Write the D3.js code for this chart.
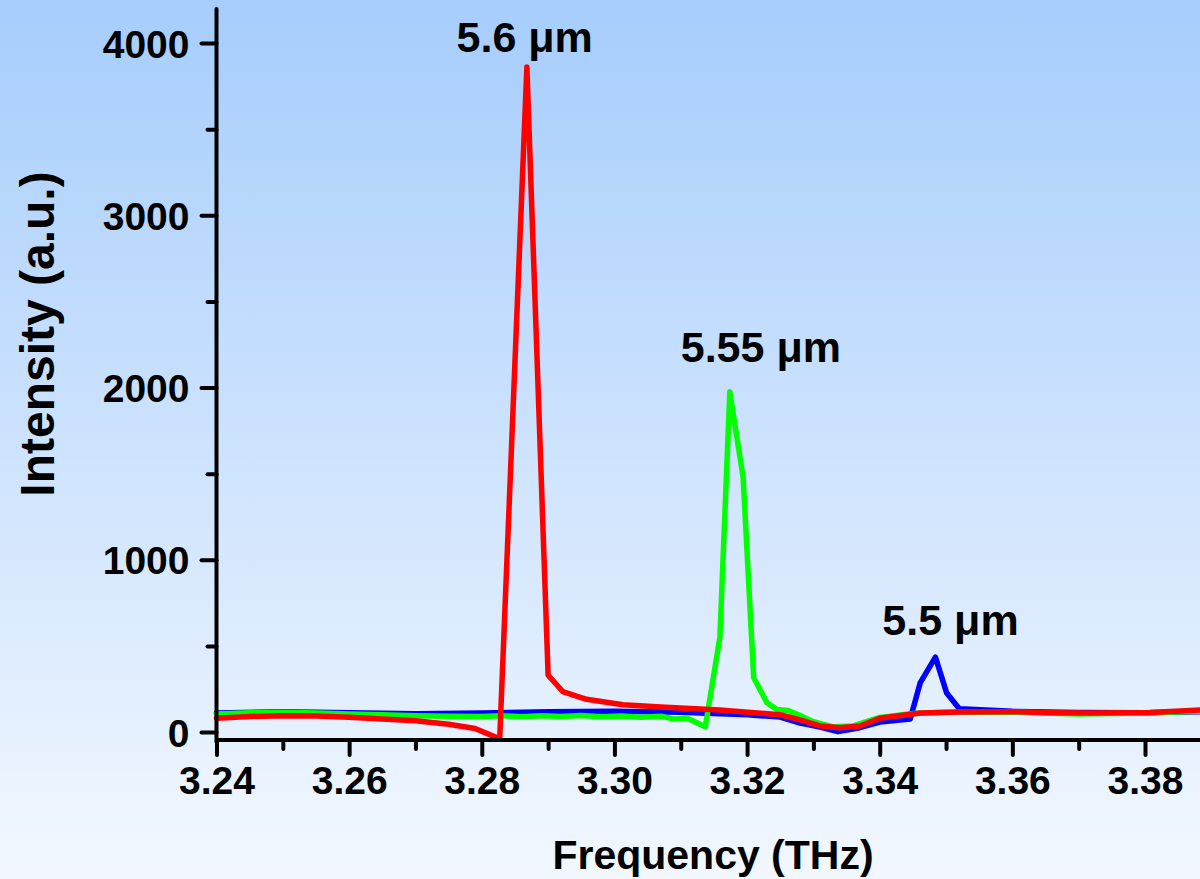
<!DOCTYPE html>
<html>
<head>
<meta charset="utf-8">
<script src="https://cdn.jsdelivr.net/npm/d3@7"></script>
<style>
  html, body { margin: 0; padding: 0; background: #fff; }
  svg { display: block; font-family: "Liberation Sans", Arial, Helvetica, sans-serif; }
</style>
</head>
<body>
<svg id="chart" width="1200" height="879"></svg>
<script>
// ---------------- data ----------------
const blueFreq = [3.240, 3.250, 3.260, 3.270, 3.280, 3.290, 3.300, 3.310, 3.315, 3.320, 3.325, 3.328, 3.331, 3.3337, 3.337, 3.340, 3.3446, 3.3461, 3.3484, 3.3501, 3.352, 3.360, 3.370, 3.380, 3.3884];
const blueVals = [110, 118, 112, 106, 110, 118, 120, 115, 108, 100, 87, 52, 29, 2, 25, 58, 75, 285, 435, 226, 135, 120, 113, 112, 118];

const greenFreq = [3.240, 3.245, 3.250, 3.255, 3.260, 3.265, 3.270, 3.275, 3.280, 3.283, 3.286, 3.289, 3.292, 3.295, 3.298, 3.301, 3.304, 3.307, 3.309, 3.311, 3.3137, 3.3159, 3.3174, 3.3194, 3.3210, 3.3230, 3.3245, 3.3262, 3.3280, 3.3300, 3.3330, 3.3360, 3.3400, 3.3450, 3.3500, 3.3600, 3.3700, 3.3800, 3.3884];
const greenVals = [105, 112, 115, 110, 105, 100, 95, 92, 90, 95, 88, 95, 90, 96, 88, 93, 86, 92, 75, 80, 30, 550, 1975, 1480, 315, 170, 130, 125, 95, 60, 30, 35, 85, 108, 115, 115, 105, 110, 120];

const redFreq = [3.240, 3.245, 3.250, 3.255, 3.260, 3.265, 3.270, 3.275, 3.279, 3.2827, 3.2868, 3.2900, 3.2922, 3.2958, 3.3013, 3.3070, 3.3159, 3.3250, 3.3280, 3.3310, 3.3340, 3.3370, 3.3400, 3.3461, 3.3522, 3.3600, 3.3660, 3.3720, 3.3808, 3.3884];
const redVals = [80, 90, 95, 93, 85, 75, 65, 45, 20, -40, 3860, 330, 235, 190, 158, 145, 128, 100, 70, 35, 25, 35, 80, 110, 116, 118, 112, 110, 113, 128];

const seriesNames = ["5.5 \u03bcm", "5.55 \u03bcm", "5.6 \u03bcm"];
const xTickValues = [3.24, 3.26, 3.28, 3.30, 3.32, 3.34, 3.36, 3.38];
const xMinorValues = [3.25, 3.27, 3.29, 3.31, 3.33, 3.35, 3.37];
const yTickValues = [0, 1000, 2000, 3000, 4000];
const yMinorValues = [500, 1500, 2500, 3500];
// label anchors in data units (frequency, intensity)
const labelFreq = [3.3404, 3.3100, 3.2762];
const labelVals = [564, 2150, 3948];

const xTitle = "Frequency (THz)";
const yTitle = "Intensity (a.u.)";

// ---------------- drawing ----------------
const svg = d3.select("#chart");
const W = 1200, H = 879;

const defs = svg.append("defs");
const grad = defs.append("linearGradient").attr("id", "bg").attr("x1", 0).attr("y1", 0).attr("x2", 0).attr("y2", 1);
grad.append("stop").attr("offset", "0%").attr("stop-color", "#a6cdfc");
grad.append("stop").attr("offset", "100%").attr("stop-color", "#f3f8ff");
defs.append("clipPath").attr("id", "clip").append("rect").attr("x", 0).attr("y", 0).attr("width", W).attr("height", H);

svg.append("rect").attr("width", W).attr("height", H).attr("fill", "url(#bg)");

const x = d3.scaleLinear().domain([3.24, 3.38]).range([216.5, 1145]);
const y = d3.scaleLinear().domain([0, 4000]).range([732, 43]);
const axisY = 740;

const line = d3.line().x(d => x(d[0])).y(d => y(d[1]));
const series = [
  { freq: blueFreq, vals: blueVals, color: "#0000ff" },
  { freq: greenFreq, vals: greenVals, color: "#00ff00" },
  { freq: redFreq, vals: redVals, color: "#ff0000" }
];

const plot = svg.append("g").attr("clip-path", "url(#clip)");
series.forEach(s => {
  plot.append("path")
    .datum(s.freq.map((f, i) => [f, s.vals[i]]))
    .attr("fill", "none")
    .attr("stroke", s.color)
    .attr("stroke-width", 5.5)
    .attr("stroke-linejoin", "round")
    .attr("stroke-linecap", "round")
    .attr("d", line);
});

// x axis
const xAxis = svg.append("g").attr("transform", `translate(0,${axisY})`)
  .call(d3.axisBottom(x).tickValues(xTickValues).tickSize(15).tickPadding(11).tickFormat(d3.format(".2f")));
const xMinor = svg.append("g").attr("transform", `translate(0,${axisY})`)
  .call(d3.axisBottom(x).tickValues(xMinorValues).tickSize(9).tickFormat(""));
// y axis
const yAxis = svg.append("g").attr("transform", `translate(216.5,0)`)
  .call(d3.axisLeft(y).tickValues(yTickValues).tickSize(15).tickPadding(12).tickFormat(d3.format("d")));
const yMinor = svg.append("g").attr("transform", `translate(216.5,0)`)
  .call(d3.axisLeft(y).tickValues(yMinorValues).tickSize(9).tickFormat(""));

[xAxis, xMinor, yAxis, yMinor].forEach(g => {
  g.select(".domain").remove();
  g.selectAll(".tick line").attr("stroke", "#000").attr("stroke-width", 4).attr("stroke-linecap", "round");
  g.selectAll(".tick text").attr("fill", "#000").attr("font-weight", "bold").attr("font-size", 39)
    .attr("font-family", "'Liberation Sans', Arial, sans-serif");
});
yAxis.selectAll(".tick text").attr("dy", "0.36em");

// axis lines
svg.append("line").attr("x1", 216.5).attr("x2", 1200).attr("y1", axisY).attr("y2", axisY)
  .attr("stroke", "#000").attr("stroke-width", 4);
svg.append("line").attr("x1", 216.5).attr("x2", 216.5).attr("y1", 9).attr("y2", axisY + 2)
  .attr("stroke", "#000").attr("stroke-width", 4).attr("stroke-linecap", "round");

// titles
svg.append("text").attr("x", 713).attr("y", 869).attr("text-anchor", "middle")
  .attr("font-weight", "bold").attr("font-size", 41).attr("fill", "#000").text(xTitle);
svg.append("text").attr("transform", "translate(54,334) rotate(-90)").attr("text-anchor", "middle")
  .attr("font-weight", "bold").attr("font-size", 48).attr("fill", "#000").text(yTitle);

// peak labels
seriesNames.forEach((n, i) => {
  svg.append("text").attr("x", x(labelFreq[i])).attr("y", y(labelVals[i]))
    .attr("font-weight", "bold").attr("font-size", 43).attr("fill", "#000").text(n);
});
</script>
</body>
</html>
